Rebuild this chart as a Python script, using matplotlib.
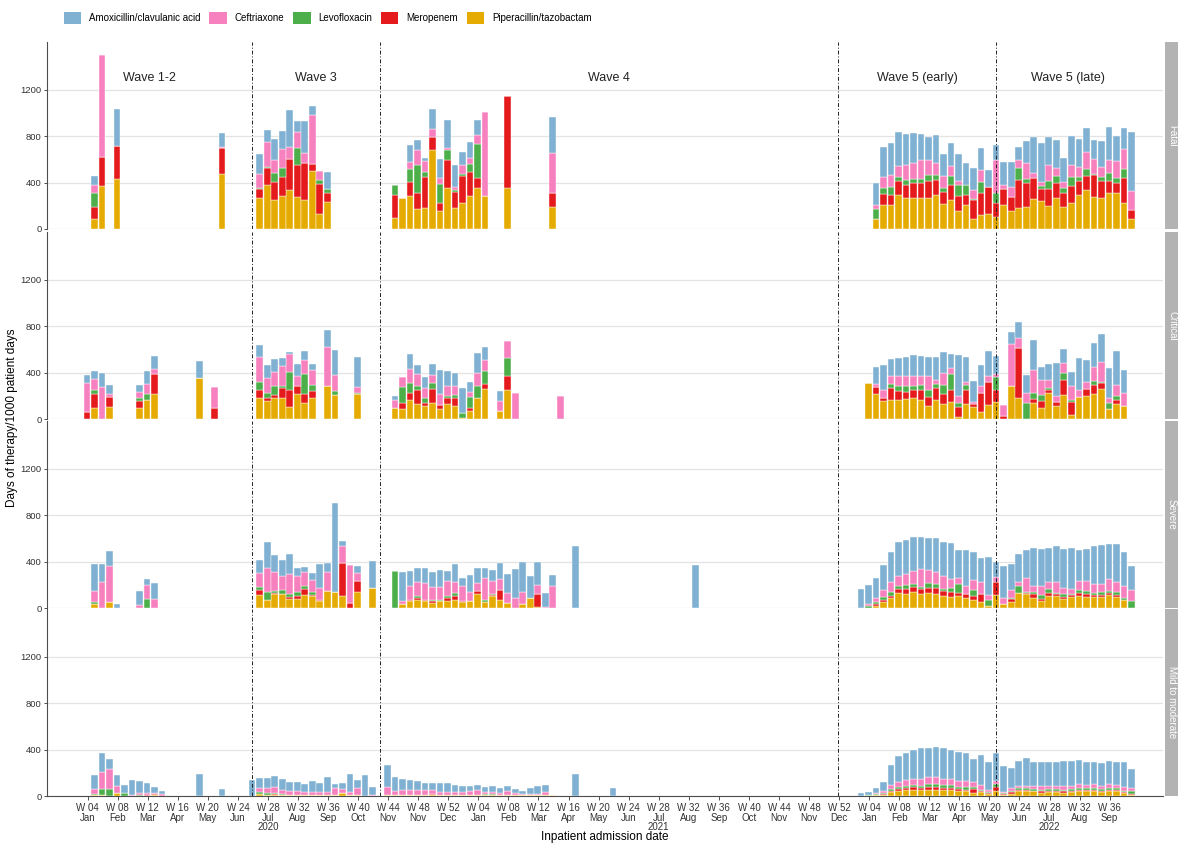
import matplotlib.pyplot as plt
import numpy as np

# drugs, legend order
drugs = ['Amoxicillin/clavulanic acid', 'Ceftriaxone', 'Levofloxacin',
         'Meropenem', 'Piperacillin/tazobactam']
colors = ['#80B1D3', '#F781BF', '#4DAF4A', '#E41A1C', '#E6AB02']

panels = ['Fatal', 'Critical', 'Severe', 'Mild to moderate']

# week index 0 = W04 2020
# ---- Fatal ----
fatal_weeks = [0, 1, 3, 17, 22, 23, 24, 25, 26, 27, 28, 29, 30, 31,
               40, 41, 42, 43, 44, 45, 46, 47, 48, 49, 50, 51, 52, 55, 61,
               104, 105, 106, 107, 108, 109, 110, 111, 112, 113, 114, 115, 116, 117, 118, 119, 120,
               121, 122, 123, 124, 125, 126, 127, 128, 129, 130, 131, 132, 133, 134, 135, 136, 137, 138]
fatal_pip = [89, 373, 428, 473, 267, 376, 252, 287, 333, 275, 252, 502, 129, 230,
             95, 267, 281, 172, 181, 683, 158, 353, 178, 224, 284, 353, 284, 353, 192,
             86, 204, 210, 290, 264, 270, 267, 267, 290, 218, 250, 155, 204, 86, 123, 129, 103,
             204, 158, 178, 189, 258, 238, 195, 264, 189, 224, 290, 333, 276, 264, 310, 307, 224, 83]
fatal_mero = [103, 250, 284, 224, 80, 146, 155, 158, 270, 275, 316, 60, 258, 83,
              201, 0, 121, 135, 264, 109, 66, 238, 138, 230, 204, 83, 0, 789, 115,
              0, 100, 86, 121, 112, 123, 126, 149, 132, 100, 129, 129, 92, 166, 187, 235, 121,
              141, 118, 241, 207, 181, 109, 149, 129, 118, 144, 126, 121, 192, 146, 106, 86, 212, 80]
fatal_levo = [115, 0, 0, 0, 6, 14, 72, 83, 0, 146, 0, 0, 34, 34,
              80, 0, 115, 241, 43, 0, 164, 92, 20, 17, 75, 293, 0, 0, 0,
              86, 49, 63, 34, 43, 40, 40, 52, 46, 34, 75, 92, 80, 9, 95, 0, 83,
              0, 0, 106, 34, 0, 23, 66, 60, 46, 77, 29, 60, 9, 34, 63, 46, 77, 0]
fatal_ceft = [69, 877, 0, 6, 120, 215, 118, 161, 100, 135, 89, 419, 80, 0,
              0, 0, 57, 129, 100, 72, 52, 11, 26, 83, 46, 83, 720, 0, 344,
              37, 92, 109, 95, 132, 135, 164, 129, 100, 100, 86, 40, 0, 72, 103, 0, 290,
              32, 89, 72, 135, 43, 37, 141, 72, 49, 106, 86, 149, 121, 86, 112, 149, 172, 166]
fatal_amox = [83, 0, 324, 120, 169, 100, 175, 158, 318, 100, 270, 80, 0, 141,
              0, 0, 149, 86, 26, 172, 164, 247, 187, 109, 138, 129, 0, 0, 310,
              184, 258, 270, 293, 267, 255, 221, 195, 241, 195, 198, 232, 189, 192, 189, 144, 123,
              201, 212, 106, 195, 310, 330, 241, 244, 207, 247, 247, 210, 169, 230, 290, 215, 187, 505]

# ---- Critical ----
crit_weeks = [-1, 0, 1, 2, 6, 7, 8, 14, 16, 22, 23, 24, 25, 26, 27, 28, 29, 31, 32, 35,
              40, 41, 42, 43, 44, 45, 46, 47, 48, 49, 50, 51, 52, 54, 55, 56, 62,
              103, 104, 105, 106, 107, 108, 109, 110, 111, 112, 113, 114, 115, 116, 117, 118, 119, 120,
              121, 122, 123, 124, 125, 126, 127, 128, 129, 130, 131, 132, 133, 134, 135, 136, 137]
crit_pip = [0, 92, 0, 106, 92, 166, 215, 356, 0, 181, 155, 181, 181, 106, 215, 141, 181, 284, 204, 212,
            92, 89, 161, 132, 115, 141, 89, 129, 115, 11, 66, 181, 261, 66, 247, 0, 0,
            310, 218, 155, 163, 163, 169, 178, 163, 109, 163, 129, 143, 17, 132, 103, 63, 123, 149,
            0, 281, 178, 0, 138, 95, 227, 109, 209, 34, 189, 201, 212, 255, 83, 129, 115]
crit_mero = [60, 123, 0, 80, 63, 0, 175, 0, 98, 72, 23, 23, 83, 143, 66, 75, 60, 0, 0, 0,
             0, 52, 66, 115, 26, 115, 32, 49, 66, 0, 32, 0, 40, 0, 123, 0, 0,
             0, 57, 23, 100, 75, 60, 75, 83, 77, 106, 83, 109, 83, 118, 23, 163, 192, 100,
             29, 0, 433, 0, 32, 63, 20, 37, 129, 115, 0, 57, 80, 52, 0, 34, 0]
crit_levo = [0, 37, 0, 0, 26, 49, 0, 0, 0, 66, 49, 80, 23, 155, 0, 175, 49, 0, 40, 11,
             0, 138, 86, 37, 43, 55, 0, 17, 29, 43, 89, 103, 115, 0, 158, 0, 0,
             0, 0, 0, 37, 46, 54, 29, 46, 66, 32, 80, 135, 37, 43, 0, 0, 0, 109,
             0, 0, 0, 138, 57, 46, 23, 0, 60, 14, 0, 0, 32, 11, 52, 34, 0]
crit_ceft = [250, 95, 275, 26, 52, 83, 43, 0, 178, 212, 123, 118, 172, 158, 89, 115, 132, 336, 132, 52,
             72, 83, 115, 106, 80, 66, 92, 86, 72, 0, 46, 115, 89, 86, 143, 221, 201,
             0, 29, 72, 66, 83, 83, 92, 75, 120, 37, 100, 49, 57, 26, 17, 60, 57, 26,
             92, 367, 89, 89, 195, 129, 63, 54, 80, 118, 57, 63, 120, 175, 43, 95, 109]
crit_amox = [66, 63, 121, 77, 63, 112, 106, 140, 0, 106, 118, 115, 69, 17, 106, 75, 49, 143, 215, 255,
             37, 0, 129, 75, 98, 95, 212, 135, 115, 212, 89, 172, 115, 89, 0, 0, 0,
             0, 143, 218, 146, 155, 169, 175, 175, 163, 198, 181, 126, 358, 218, 181, 181, 215, 158,
             0, 97, 132, 149, 261, 118, 141, 278, 123, 126, 275, 186, 212, 235, 261, 295, 195]

# ---- Severe ----
sev_weeks = [0, 1, 2, 3, 6, 7, 8, 22, 23, 24, 25, 26, 27, 28, 29, 30, 31, 32, 33, 34, 35, 37,
             40, 41, 42, 43, 44, 45, 46, 47, 48, 49, 50, 51, 52, 53, 54, 55, 56, 57, 58, 59, 60, 61,
             64, 80,
             102, 103, 104, 105, 106, 107, 108, 109, 110, 111, 112, 113, 114, 115, 116, 117, 118, 119, 120,
             121, 122, 123, 124, 125, 126, 127, 128, 129, 130, 131, 132, 133, 134, 135, 136, 137, 138]
sev_pip = [37, 0, 54, 0, 0, 0, 0, 112, 72, 118, 120, 80, 75, 115, 103, 57, 143, 140, 106, 0, 140, 175,
           0, 32, 63, 72, 63, 46, 57, 60, 72, 52, 60, 123, 52, 100, 66, 40, 0, 37, 86, 6, 0, 0,
           0, 0,
           0, 0, 17, 52, 89, 126, 118, 135, 121, 129, 118, 100, 95, 100, 86, 72, 49, 20, 109,
           32, 49, 126, 118, 89, 63, 106, 106, 75, 98, 100, 95, 92, 92, 112, 98, 66, 0]
sev_mero = [0, 0, 0, 0, 0, 0, 0, 46, 0, 14, 0, 11, 29, 52, 9, 14, 0, 0, 278, 40, 95, 0,
            0, 0, 9, 14, 9, 14, 0, 23, 34, 9, 0, 23, 0, 11, 89, 0, 0, 0, 0, 112, 0, 0,
            0, 0,
            0, 0, 14, 14, 17, 37, 49, 43, 40, 46, 55, 49, 46, 32, 34, 32, 72, 0, 112,
            0, 26, 0, 11, 29, 17, 20, 14, 17, 11, 32, 23, 17, 17, 14, 17, 0, 0]
sev_levo = [17, 0, 0, 0, 0, 75, 0, 23, 66, 17, 34, 32, 32, 20, 29, 0, 0, 0, 0, 0, 0, 0,
            321, 0, 0, 20, 0, 9, 9, 23, 26, 0, 0, 0, 20, 11, 0, 0, 0, 0, 0, 0, 0, 0,
            0, 0,
            0, 17, 20, 32, 32, 29, 29, 32, 23, 40, 37, 17, 34, 77, 0, 55, 0, 46, 0,
            0, 11, 63, 11, 17, 34, 40, 11, 32, 11, 26, 32, 17, 29, 23, 26, 23, 57]
sev_ceft = [92, 224, 304, 0, 26, 120, 80, 123, 206, 161, 118, 169, 143, 123, 100, 98, 166, 0, 149, 333, 69, 0,
            0, 26, 120, 115, 143, 112, 118, 129, 92, 126, 75, 69, 184, 112, 98, 86, 83, 100, 0, 83, 11, 192,
            0, 0,
            0, 20, 32, 55, 83, 83, 98, 106, 155, 112, 100, 106, 77, 49, 66, 80, 103, 46, 49,
            52, 72, 37, 115, 52, 72, 57, 89, 46, 40, 77, 86, 80, 69, 98, 83, 100, 95]
sev_amox = [229, 152, 132, 37, 120, 54, 135, 106, 224, 149, 138, 172, 63, 46, 63, 209, 80, 765, 40, 0, 60, 229,
            0, 252, 126, 123, 129, 129, 140, 86, 152, 75, 149, 126, 92, 92, 135, 169, 252, 261, 189, 198, 115, 95,
            536, 370,
            161, 164, 178, 217, 259, 295, 294, 294, 271, 273, 290, 298, 308, 242, 314, 241, 207, 324, 129,
            278, 224, 242, 245, 333, 324, 297, 310, 340, 360, 265, 274, 324, 333, 303, 326, 291, 210]

# ---- Mild to moderate ----
mild_weeks = [0, 1, 2, 3, 4, 5, 6, 7, 8, 9, 14, 17,
              21, 22, 23, 24, 25, 26, 27, 28, 29, 30, 31, 32, 33, 34, 35, 36, 37,
              39, 40, 41, 42, 43, 44, 45, 46, 47, 48, 49, 50, 51, 52, 53, 54, 55, 56, 57, 58, 59, 60, 61,
              64, 69,
              102, 103, 104, 105, 106, 107, 108, 109, 110, 111, 112, 113, 114, 115, 116, 117, 118, 119, 120,
              121, 122, 123, 124, 125, 126, 127, 128, 129, 130, 131, 132, 133, 134, 135, 136, 137, 138]
mild_pip = [9, 6, 0, 25, 0, 0, 0, 0, 6, 0, 0, 0,
            0, 15, 12, 10, 10, 5, 5, 5, 5, 8, 10, 10, 30, 5, 5, 0, 0,
            5, 5, 10, 10, 10, 12, 8, 8, 8, 6, 6, 5, 5, 5, 8, 5, 12, 5, 5, 5, 5, 5, 5,
            0, 0,
            0, 0, 5, 12, 35, 45, 50, 55, 50, 55, 55, 50, 50, 40, 40, 30, 35, 20, 40,
            10, 20, 45, 45, 40, 30, 35, 35, 30, 35, 40, 40, 40, 35, 45, 40, 30, 10]
mild_mero = [0, 0, 0, 0, 0, 0, 0, 9, 12, 0, 0, 0,
             0, 6, 0, 5, 0, 0, 0, 5, 0, 0, 0, 0, 0, 0, 0, 0, 0,
             0, 0, 0, 0, 0, 0, 5, 0, 0, 0, 0, 0, 5, 0, 0, 0, 0, 0, 0, 0, 0, 0, 0,
             0, 0,
             0, 0, 5, 5, 10, 15, 20, 20, 20, 25, 20, 20, 20, 20, 15, 30, 10, 5, 40,
             5, 15, 10, 5, 5, 10, 10, 10, 10, 10, 15, 10, 10, 10, 10, 10, 5, 5]
mild_levo = [9, 55, 61, 0, 25, 0, 6, 0, 0, 0, 0, 0,
             0, 12, 15, 15, 5, 0, 0, 0, 0, 0, 0, 0, 0, 0, 0, 0, 0,
             0, 0, 0, 0, 0, 0, 0, 0, 0, 0, 0, 0, 0, 10, 10, 0, 0, 0, 0, 0, 0, 0, 0,
             0, 0,
             0, 5, 5, 10, 15, 20, 20, 20, 20, 20, 25, 25, 25, 20, 25, 20, 10, 10, 25,
             10, 10, 15, 15, 15, 15, 15, 15, 15, 15, 15, 15, 15, 15, 15, 15, 10, 25]
mild_ceft = [43, 147, 172, 61, 0, 10, 20, 15, 12, 18, 0, 0,
             0, 40, 40, 50, 40, 35, 35, 25, 30, 30, 25, 60, 30, 30, 60, 0, 10,
             75, 40, 40, 45, 45, 40, 35, 30, 30, 25, 25, 40, 45, 20, 20, 20, 30, 20, 15, 15, 10, 30, 0,
             0, 0,
             0, 5, 10, 20, 35, 40, 45, 55, 60, 60, 60, 55, 55, 50, 50, 40, 40, 20, 20,
             10, 20, 20, 25, 30, 30, 30, 30, 30, 30, 30, 30, 35, 30, 30, 30, 30, 30]
mild_amox = [117, 162, 87, 94, 70, 130, 104, 91, 47, 22, 187, 60,
             140, 80, 85, 90, 95, 80, 80, 70, 95, 75, 130, 30, 55, 150, 70, 180, 65,
             190, 115, 100, 85, 75, 60, 65, 75, 75, 65, 55, 40, 40, 40, 50, 40, 45, 35, 25, 50, 70, 60, 0,
             190, 70,
             30, 25, 45, 73, 175, 220, 235, 245, 260, 255, 260, 260, 250, 250, 240, 200, 255, 235, 245,
             225, 175, 210, 240, 200, 205, 200, 200, 215, 210, 210, 195, 190, 190, 200, 195, 215, 160]

wave_names = ['Wave 1-2', 'Wave 3', 'Wave 4', 'Wave 5 (early)', 'Wave 5 (late)']
wave_mid = [7.3, 29.5, 68.5, 109.5, 129.5]
wave_breaks = [21, 38, 99, 120]

tick_labels = ['W 04\nJan', 'W 08\nFeb', 'W 12\nMar', 'W 16\nApr', 'W 20\nMay', 'W 24\nJun',
               'W 28\nJul\n2020', 'W 32\nAug', 'W 36\nSep', 'W 40\nOct', 'W 44\nNov', 'W 48\nNov', 'W 52\nDec',
               'W 04\nJan', 'W 08\nFeb', 'W 12\nMar', 'W 16\nApr', 'W 20\nMay', 'W 24\nJun',
               'W 28\nJul\n2021', 'W 32\nAug', 'W 36\nSep', 'W 40\nOct', 'W 44\nNov', 'W 48\nNov', 'W 52\nDec',
               'W 04\nJan', 'W 08\nFeb', 'W 12\nMar', 'W 16\nApr', 'W 20\nMay', 'W 24\nJun',
               'W 28\nJul\n2022', 'W 32\nAug', 'W 36\nSep']

panel_data = [
    (fatal_weeks, [fatal_pip, fatal_mero, fatal_levo, fatal_ceft, fatal_amox]),
    (crit_weeks, [crit_pip, crit_mero, crit_levo, crit_ceft, crit_amox]),
    (sev_weeks, [sev_pip, sev_mero, sev_levo, sev_ceft, sev_amox]),
    (mild_weeks, [mild_pip, mild_mero, mild_levo, mild_ceft, mild_amox]),
]

plt.rcParams['font.family'] = ['Liberation Sans', 'DejaVu Sans']

W, H = 1178, 846
fig = plt.figure(figsize=(W / 100, H / 100), dpi=100)

x0, x1 = 47, 1163
tops = [42, 232, 421, 609]
ph = 187
# stacking order bottom -> top: pip, mero, levo, ceft, amox
stack_colors = colors[::-1]

axes = []
for p, (name, (weeks, series)) in enumerate(zip(panels, panel_data)):
    ax = fig.add_axes([x0 / W, 1 - (tops[p] + ph) / H, (x1 - x0) / W, ph / H])
    axes.append(ax)
    weeks = np.array(weeks)
    bottom = np.zeros(len(weeks))
    for vals, c in zip(series, stack_colors):
        vals = np.array(vals, dtype=float)
        ax.bar(weeks, vals, bottom=bottom, width=0.88, color=c,
               edgecolor='white', linewidth=0.3, zorder=3)
        bottom += vals
    ax.set_xlim(-6.3, 142.2)
    ax.set_ylim(0, 1609)
    ax.set_yticks([0, 400, 800, 1200])
    ax.yaxis.grid(True, color='#E3E3E3', linewidth=0.9, zorder=0)
    ax.set_axisbelow(True)
    for s in ['top', 'right', 'bottom']:
        ax.spines[s].set_visible(False)
    ax.spines['left'].set_color('#4D4D4D')
    ax.spines['left'].set_linewidth(0.8)
    ax.tick_params(axis='y', labelsize=6.8, colors='#333333', length=2.5, width=0.6, pad=1.5)
    for b in wave_breaks:
        ax.axvline(b, color='#222222', linewidth=0.7, linestyle=(0, (4, 2, 1, 2)), zorder=4)
    ax.set_xticks(np.arange(35) * 4 - 0.9)
    if p < 3:
        ax.tick_params(axis='x', bottom=False, labelbottom=False)
    else:
        ax.set_xticklabels(tick_labels)
        ax.spines['bottom'].set_visible(True)
        ax.spines['bottom'].set_color('#4D4D4D')
        ax.spines['bottom'].set_linewidth(0.8)
        ax.tick_params(axis='x', labelsize=7, colors='#333333', length=3, width=0.6, pad=2)
        for lab in ax.get_xticklabels():
            lab.set_linespacing(0.95)
    # strip
    sax = fig.add_axes([1165 / W, 1 - (tops[p] + ph) / H, 14 / W, ph / H])
    sax.set_facecolor('#B3B3B3')
    sax.set_xticks([])
    sax.set_yticks([])
    for s in sax.spines.values():
        s.set_visible(False)
    sax.text(0.5, 0.5, name, rotation=-90, color='white', fontsize=7,
             ha='center', va='center', transform=sax.transAxes)

for name, xm in zip(wave_names, wave_mid):
    axes[0].text(xm, 1300, name, ha='center', va='center', fontsize=9, color='#222222')

fig.text(12 / W, 1 - 418 / H, 'Days of therapy/1000 patient days', rotation=90,
         ha='center', va='center', fontsize=8.5)
fig.text(605 / W, 1 - 837 / H, 'Inpatient admission date', ha='center', va='center', fontsize=8.5)

handles = [plt.Rectangle((0, 0), 1, 1, facecolor=c, edgecolor='none') for c in colors]
fig.legend(handles, drugs, loc='center left', bbox_to_anchor=(60 / W, 1 - 18 / H), ncol=5,
           frameon=False, fontsize=7, handlelength=1.8, handleheight=1.6, columnspacing=0.9,
           handletextpad=0.8, borderaxespad=0)

fig.savefig('out.png', dpi=100)
